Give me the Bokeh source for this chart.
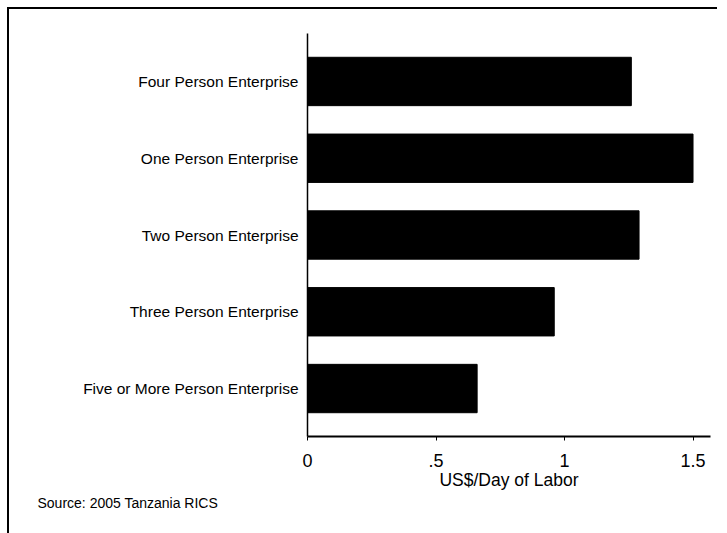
from bokeh.plotting import figure
from bokeh.models import FactorRange, Range1d, Title, FixedTicker
from bokeh.embed import file_html
from bokeh.resources import INLINE

categories = ["Four Person Enterprise", "One Person Enterprise", "Two Person Enterprise",
              "Three Person Enterprise", "Five or More Person Enterprise"]
values = [1.26, 1.50, 1.29, 0.96, 0.66]
x_ticks = [0, 0.5, 1, 1.5]
x_tick_labels = {0: "0", 0.5: ".5", 1: "1", 1.5: "1.5"}

W, H = 710, 526
factors = list(reversed(categories))
p = figure(width=W, height=H, output_backend="svg", toolbar_location=None,
           y_range=FactorRange(*factors, range_padding=0.05),
           x_range=Range1d(0, 1.568),
           min_border_left=298, min_border_right=9, min_border_top=24, min_border_bottom=99)
p.styles = {"border-top": "2px solid black", "border-left": "2px solid black",
            "margin-left": "7px", "margin-top": "7px"}
p.hbar(y=categories, right=values, left=0, height=0.63, color="black")

p.outline_line_color = None
p.xgrid.visible = False
p.ygrid.visible = False
p.background_fill_color = "white"
p.border_fill_color = "white"

xa = p.xaxis[0]
xa.ticker = FixedTicker(ticks=x_ticks)
xa.major_label_overrides = x_tick_labels
xa.axis_line_width = 2
xa.axis_line_color = "black"
xa.major_tick_in = 0
xa.major_tick_out = 4
xa.minor_tick_out = 0
xa.minor_tick_in = 0
xa.major_label_standoff = 13
xa.major_label_text_font = "Liberation Sans"
xa.major_label_text_font_size = "18px"
xa.major_label_text_color = "black"
xa.axis_label = "US$/Day of Labor"
xa.axis_label_text_font = "Liberation Sans"
xa.axis_label_text_font_style = "normal"
xa.axis_label_text_font_size = "17.5px"
xa.axis_label_text_color = "black"
xa.axis_label_standoff = 0

ya = p.yaxis[0]
ya.axis_line_width = 1.5
ya.axis_line_color = "black"
ya.major_tick_out = 0
ya.major_tick_in = 0
ya.major_label_standoff = 9
ya.major_label_text_font = "Liberation Sans"
ya.major_label_text_font_size = "15.5px"
ya.major_label_text_color = "black"

src = Title(text="Source: 2005 Tanzania RICS", align="left", offset=-270,
            text_font="Liberation Sans", text_font_size="14px",
            text_font_style="normal", text_color="black", standoff=0)
p.add_layout(src, "below")

open("out.html", "w").write(file_html(p, INLINE))
